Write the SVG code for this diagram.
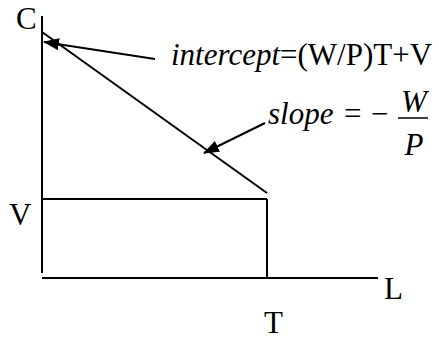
<svg xmlns="http://www.w3.org/2000/svg" width="439" height="339" viewBox="0 0 439 339">
<style>
  .ln { stroke: #000; stroke-width: 2; fill: none; }
  .t { font-family: "Liberation Serif", "Times New Roman", serif; font-size: 31px; fill: #000; }
  .i { font-style: italic; }
</style>
<defs>
  <marker id="ah" viewBox="0 0 16 12" refX="15" refY="6" markerWidth="16" markerHeight="12" markerUnits="userSpaceOnUse" orient="auto">
    <path d="M0,0 L16,6 L0,12 Z" fill="#000"/>
  </marker>
</defs>
<rect width="439" height="339" fill="#fff"/>
<g id="axes">
  <line class="ln" x1="42" y1="16" x2="42" y2="273"/>
  <line class="ln" x1="42" y1="278" x2="378" y2="278"/>
</g>
<g id="budget">
  <line class="ln" x1="42" y1="32" x2="267" y2="193"/>
  <line class="ln" x1="42" y1="199" x2="267" y2="199"/>
  <line class="ln" x1="267" y1="199" x2="267" y2="278"/>
</g>
<g id="connectors">
  <line class="ln" x1="155" y1="59" x2="44" y2="42" marker-end="url(#ah)"/>
  <line class="ln" x1="265" y1="123" x2="204" y2="153" marker-end="url(#ah)"/>
</g>
<g id="label-C"><text class="t" x="16" y="29">C</text></g>
<g id="label-intercept"><text class="t" x="171" y="65"><tspan class="i">intercept</tspan>=(W/P)T+V</text></g>
<g id="label-slope">
  <text class="t i" x="268" y="124">slope</text>
  <text class="t" x="344" y="124">=</text>
  <text class="t" x="371" y="124">−</text>
  <text class="t i" x="414" y="112" text-anchor="middle">W</text>
  <line x1="398" y1="118" x2="428" y2="118" stroke="#000" stroke-width="1.5"/>
  <text class="t i" x="414" y="155" text-anchor="middle">P</text>
</g>
<g id="label-V"><text class="t" x="9" y="225">V</text></g>
<g id="label-L"><text class="t" x="384" y="299">L</text></g>
<g id="label-T"><text class="t" x="264" y="333">T</text></g>
</svg>
